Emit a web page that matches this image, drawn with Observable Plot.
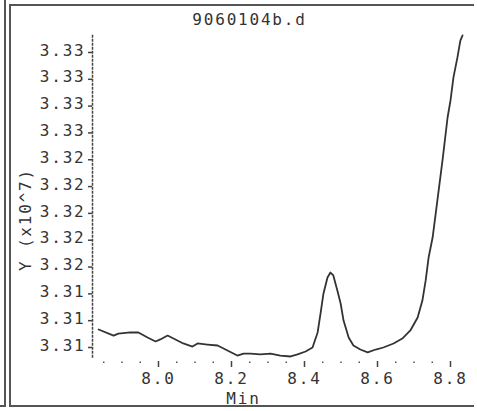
<!DOCTYPE html>
<html>
<head>
<meta charset="utf-8">
<script src="https://cdn.jsdelivr.net/npm/d3@7"></script>
<script src="https://cdn.jsdelivr.net/npm/@observablehq/plot@0.6"></script>
<style>
  html, body { margin: 0; padding: 0; background: #fff; overflow: hidden; }
  #wrap { position: relative; width: 477px; height: 411px; overflow: hidden; background: #fff; }
  #chart { position: absolute; left: 0; top: 0; width: 477px; height: 411px; overflow: hidden; }
  .ln { position: absolute; background: #555; }
</style>
</head>
<body>
<div id="wrap">
  <div id="chart"></div>
  <div class="ln" style="left:4px;top:0;width:2px;height:407px;"></div>
  <div class="ln" style="left:0;top:405px;width:6px;height:2px;"></div>
  <div class="ln" style="left:9px;top:4px;width:2px;height:403px;"></div>
  <div class="ln" style="left:9px;top:4px;width:465px;height:2px;"></div>
  <div class="ln" style="left:9px;top:405px;width:465px;height:2px;"></div>
</div>
<script>
const title = "9060104b.d";
const xLabel = "Min";
const yLabel = "Y (x10^7)";

const times = [7.836, 7.877, 7.890, 7.923, 7.945, 7.970, 7.992, 8.005, 8.025, 8.041,
  8.068, 8.093, 8.107, 8.134, 8.162, 8.189, 8.216, 8.233, 8.252, 8.279,
  8.307, 8.334, 8.362, 8.381, 8.403, 8.422, 8.436, 8.444, 8.452, 8.463,
  8.471, 8.479, 8.490, 8.499, 8.507, 8.521, 8.534, 8.553, 8.573, 8.595,
  8.616, 8.644, 8.668, 8.690, 8.710, 8.723, 8.732, 8.740, 8.751, 8.764,
  8.778, 8.792, 8.800, 8.808, 8.819, 8.827, 8.833];
const signal = [3.31134, 3.31089, 3.31104, 3.31112, 3.31112, 3.31075, 3.31045, 3.31060, 3.31089, 3.31067,
  3.31030, 3.31007, 3.31030, 3.31022, 3.31015, 3.30978, 3.30940, 3.30955, 3.30955, 3.30948,
  3.30955, 3.30940, 3.30933, 3.30948, 3.30970, 3.31000, 3.31112, 3.31254, 3.31403, 3.31522,
  3.31559, 3.31537, 3.31425, 3.31328, 3.31201, 3.31075, 3.31015, 3.30985, 3.30963, 3.30985,
  3.31000, 3.31030, 3.31067, 3.31127, 3.31224, 3.31350, 3.31500, 3.31671, 3.31820, 3.32096,
  3.32394, 3.32715, 3.32842, 3.33013, 3.33163, 3.33289, 3.33327];

const xMajor = [8.0, 8.2, 8.4, 8.6, 8.8];
const xMinor = [7.85, 7.90, 7.95, 8.05, 8.10, 8.15, 8.25, 8.30, 8.35, 8.45, 8.50, 8.55, 8.65, 8.70, 8.75];
const yTicks = [3.310, 3.312, 3.314, 3.316, 3.318, 3.320, 3.322, 3.324, 3.326, 3.328, 3.330, 3.332];

const data = times.map((t, i) => ({t, v: signal[i]}));
const ink = "#333";

const chart = Plot.plot({
  width: 477,
  height: 411,
  marginLeft: 92,
  marginRight: 10,
  marginTop: 35,
  marginBottom: 54,
  style: {fontFamily: "'DejaVu Sans Mono', monospace", fontSize: "16px", letterSpacing: "1.8px", color: ink, background: "transparent"},
  x: {domain: [7.81918, 8.84658]},
  y: {domain: [3.309254, 3.333266]},
  marks: [
    Plot.frame({anchor: "left", stroke: "#444", strokeDasharray: "1.5,2.5", strokeWidth: 1.5}),
    Plot.axisY({ticks: yTicks, tickSize: 4, tickFormat: () => "", label: null, stroke: "#444", strokeWidth: 1.5}),
    Plot.axisY({ticks: yTicks, tickSize: 0, tickPadding: 7, dy: -2, tickFormat: d3.format(".2f"), label: null, fill: ink}),
    Plot.axisX({ticks: xMinor, tickSize: 1.5, dy: 4.5, tickFormat: () => "", label: null, stroke: "#555", strokeWidth: 1.5}),
    Plot.axisX({ticks: xMajor, tickSize: 6, dy: 4, tickPadding: 5, tickFormat: d3.format(".1f"), label: null, stroke: "#444", strokeWidth: 1.5, fill: ink}),
    Plot.line(data, {x: "t", y: "v", stroke: ink, strokeWidth: 1.8}),
    Plot.text([title], {frameAnchor: "top", dx: -30.5, dy: -11, lineAnchor: "bottom", fill: ink}),
    Plot.text([xLabel], {frameAnchor: "bottom", dx: -36.5, dy: 46, lineAnchor: "bottom", fill: ink}),
    Plot.text([yLabel], {frameAnchor: "left", rotate: -90, dx: -67, dy: 23, lineAnchor: "middle", textAnchor: "middle", fill: ink})
  ]
});
document.getElementById("chart").appendChild(chart);
</script>
</body>
</html>
